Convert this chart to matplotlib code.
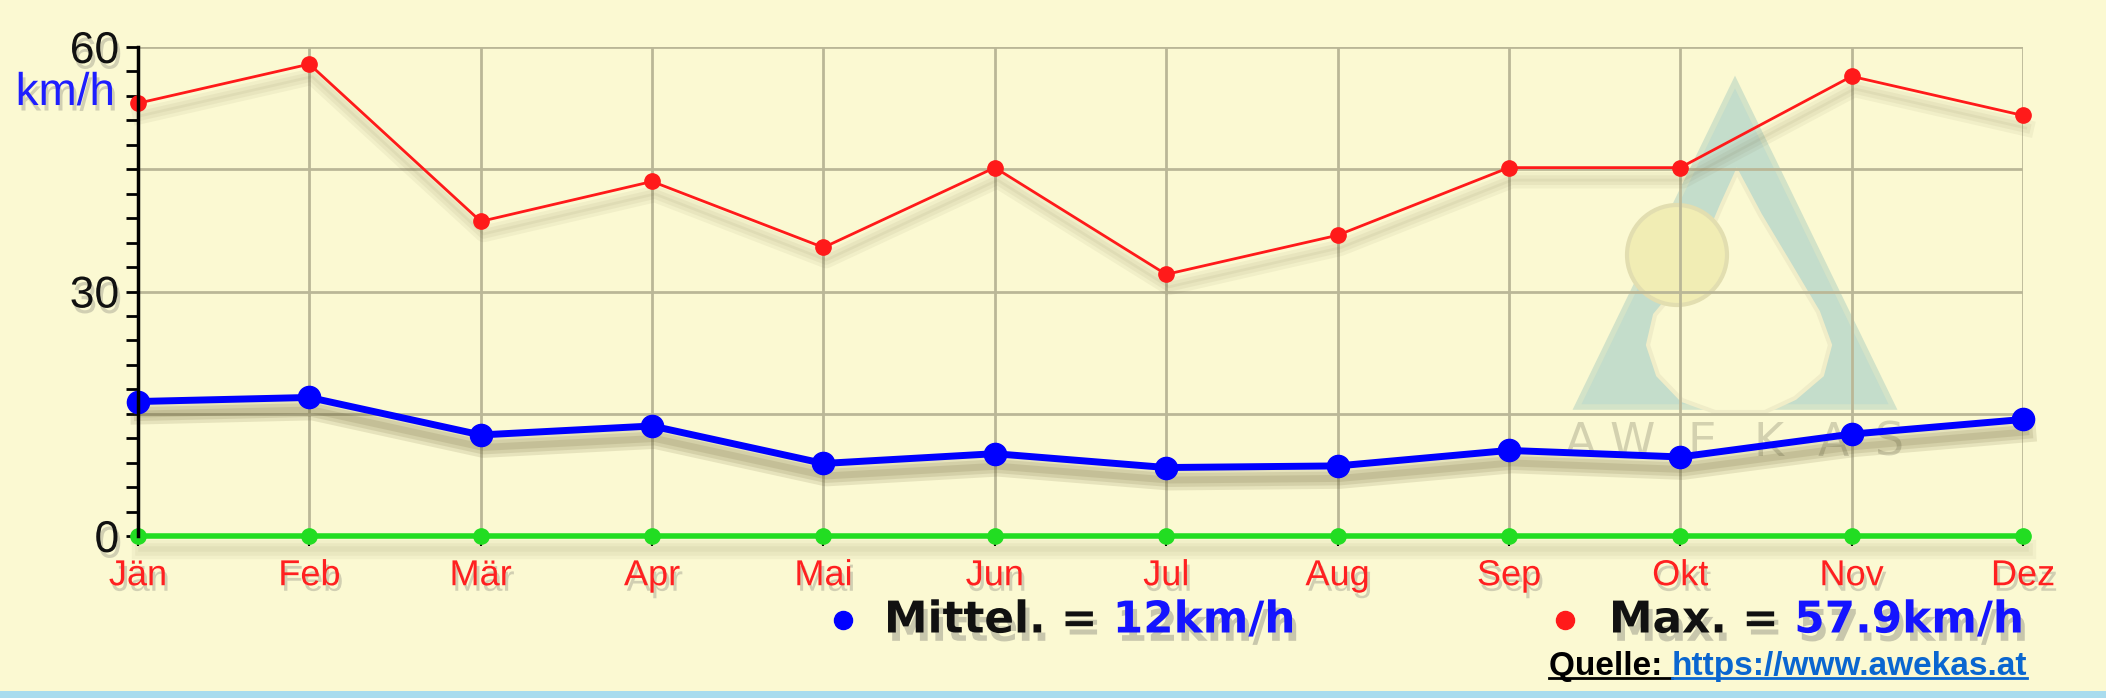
import matplotlib
matplotlib.use("Agg")
import matplotlib.pyplot as plt
import matplotlib.patheffects as pe
from matplotlib.patches import Polygon, Ellipse, Rectangle
from matplotlib.lines import Line2D

# monthly wind speed, km/h
months = ["Jän", "Feb", "Mär", "Apr", "Mai", "Jun", "Jul", "Aug", "Sep", "Okt", "Nov", "Dez"]
wind_max = [53.1, 57.9, 38.6, 43.5, 35.4, 45.2, 32.1, 36.9, 45.2, 45.2, 56.4, 51.6]
wind_mean = [16.5, 17.0, 12.4, 13.5, 8.9, 10.1, 8.4, 8.6, 10.5, 9.7, 12.5, 14.3]
baseline = [0, 0, 0, 0, 0, 0, 0, 0, 0, 0, 0, 0]
y_ticks = [0, 15, 30, 45, 60]
y_labels = ["0", "", "30", "", "60"]
mean_label = "12km/h"
max_label = "57.9km/h"

W, H = 2106, 698
bg = "#FBF9D2"


def fx(x):
    return x / W


def fy(y):
    return 1 - y / H


fig = plt.figure(figsize=(W / 100, H / 100), dpi=100, facecolor=bg)
ax = fig.add_axes([fx(138), fy(536), fx(2023) - fx(138), fy(47) - fy(536)])
ax.set_facecolor("none")

# faded logo in the background
tri = [(1735, 82), (1577, 407), (1893, 407)]
fig.add_artist(Polygon([(fx(a), fy(b)) for a, b in tri], closed=True, transform=fig.transFigure,
                       facecolor="#C4DDCB", edgecolor="#D3E3C8", lw=4, zorder=-3))
drop = [(1737, 172), (1760, 215), (1790, 265), (1818, 312), (1830, 345), (1822, 375),
        (1795, 398), (1765, 412), (1715, 412), (1682, 400), (1658, 375), (1648, 345),
        (1655, 315), (1680, 285), (1705, 245), (1722, 205)]
fig.add_artist(Polygon([(fx(a), fy(b)) for a, b in drop], closed=True, transform=fig.transFigure,
                       facecolor=bg, edgecolor="#F0EDC8", lw=3, zorder=-2))
fig.add_artist(Ellipse((fx(1677), fy(255)), 100 / W, 100 / H, transform=fig.transFigure,
                       facecolor="#F1EDB4", edgecolor="#E2DEB0", lw=3, zorder=-2))
for ch, xp in zip("AWEKAS", [1580, 1632, 1702, 1768, 1833, 1890]):
    fig.text(fx(xp), fy(443), ch, fontsize=33, color="#8A8870", alpha=0.35,
             ha="center", va="center", zorder=-1)

x = list(range(len(months)))


def shadow(lw, a):
    # a few soft layers give a blurred drop shadow
    return [pe.SimpleLineShadow(offset=(2, -9), shadow_color="#5e5428", alpha=a, linewidth=lw + 10),
            pe.SimpleLineShadow(offset=(2, -9), shadow_color="#5e5428", alpha=a, linewidth=lw + 5),
            pe.SimpleLineShadow(offset=(2, -9), shadow_color="#5e5428", alpha=a, linewidth=lw),
            pe.Normal()]


series = [(baseline, "#22DD22", 4.0, 11, 0.05),
          (wind_max, "#FF1A1A", 2.0, 11, 0.06),
          (wind_mean, "#0000FF", 5.0, 16, 0.13)]
for z, (vals, col, lw, ms, a) in enumerate(series):
    ax.plot(x, vals, color=col, lw=lw, clip_on=False, zorder=3 + z, path_effects=shadow(lw, a))
    ax.plot(x, vals, color=col, ls="none", marker="o", ms=ms, clip_on=False, zorder=3 + z)

ax.set_xlim(0, 11)
ax.set_ylim(0, 60)
ax.set_xticks(x)
ax.set_xticklabels(months, fontsize=26, color="#FF2020", family="Liberation Sans")
ax.set_yticks(y_ticks)
ax.set_yticklabels(y_labels, fontsize=32, color="#111111", family="Liberation Sans")
ax.set_yticks(range(0, 61, 3), minor=True)
ax.tick_params(axis="y", which="both", length=8.5, width=2, direction="out", pad=5)
ax.tick_params(axis="x", length=7, width=1.5, pad=9)

ax.grid(True, color="#BAB797", lw=2)
ax.set_axisbelow(True)
for s in ["top", "right", "bottom"]:
    ax.spines[s].set_visible(False)
ax.spines["left"].set_linewidth(2.5)
ax.spines["left"].set_zorder(6)

txt_shadow = [pe.withSimplePatchShadow(offset=(2, -4), shadow_rgbFace="#555555", alpha=0.25)]
for t in ax.get_xticklabels() + ax.get_yticklabels():
    t.set_path_effects(txt_shadow)

fig.text(fx(115), fy(93), "km/h", ha="right", va="center", fontsize=33, color="#1E1EFF",
         family="Liberation Sans", path_effects=txt_shadow)

# legend row
leg_shadow = [pe.withSimplePatchShadow(offset=(3, -6), shadow_rgbFace="#555555", alpha=0.3)]
fig.add_artist(Line2D([fx(843)], [fy(620)], marker="o", ms=13, color="#0000FF",
                      transform=fig.transFigure))
t1 = fig.text(fx(884), fy(620), "Mittel. = ", fontsize=31.5, weight="bold", va="center",
              ha="left", color="#111111", path_effects=leg_shadow)
ax.annotate(mean_label, xy=(1, 0), xycoords=t1, va="bottom", ha="left", fontsize=31.5,
            weight="bold", color="#1414FF", annotation_clip=False, path_effects=leg_shadow)
fig.add_artist(Line2D([fx(1565)], [fy(620)], marker="o", ms=13, color="#FF1A1A",
                      transform=fig.transFigure))
t2 = fig.text(fx(1609), fy(620), "Max. = ", fontsize=31.5, weight="bold", va="center",
              ha="left", color="#111111", path_effects=leg_shadow)
ax.annotate(max_label, xy=(1, 0), xycoords=t2, va="bottom", ha="left", fontsize=31.5,
            weight="bold", color="#1414FF", annotation_clip=False, path_effects=leg_shadow)

# source line
t3 = fig.text(fx(1549), fy(667), "Quelle: ", fontsize=24, weight="bold", va="center",
              ha="left", color="black", family="Liberation Sans")
t4 = ax.annotate("https://www.awekas.at", xy=(1, 0), xycoords=t3, va="bottom", ha="left",
                 fontsize=24, weight="bold", color="#0A66D0", family="Liberation Sans",
                 annotation_clip=False)

fig.add_artist(Rectangle((0, 0), 1, 7 / H, transform=fig.transFigure,
                         facecolor="#A9DCEE", edgecolor="none"))

fig.canvas.draw()
r = fig.canvas.get_renderer()
for t, c in [(t3, "black"), (t4, "#0A66D0")]:
    bb = t.get_window_extent(r)
    yl = (bb.y0 + 5) / H
    fig.add_artist(Line2D([bb.x0 / W, bb.x1 / W], [yl, yl], color=c, lw=2,
                          transform=fig.transFigure))

fig.savefig("out.png", dpi=100, facecolor=bg)
